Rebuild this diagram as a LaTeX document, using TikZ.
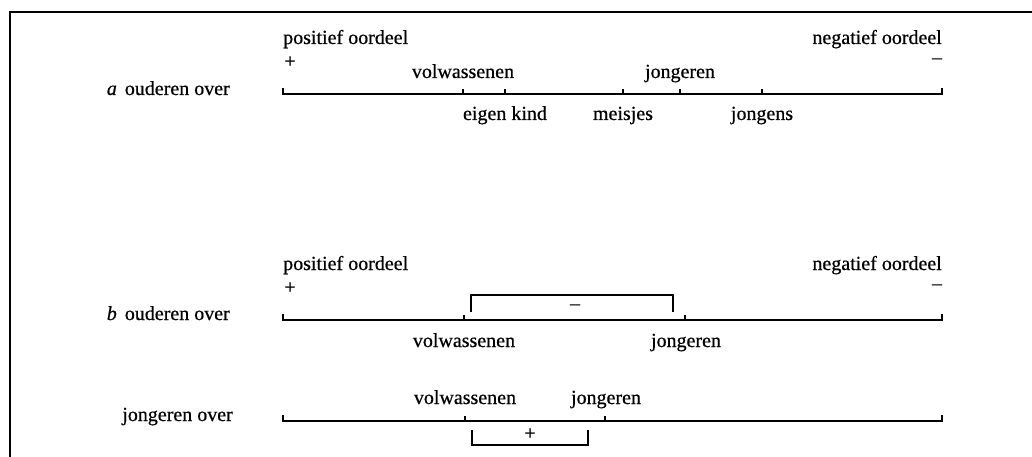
\documentclass[tikz,border=0pt]{standalone}
\usepackage{fontspec}
\setmainfont[FakeBold=0.6]{Liberation Serif}
\begin{document}
\begin{tikzpicture}[x=1pt,y=-1pt,
  lbl/.style={inner sep=0pt, font=\fontsize{20}{24}\selectfont, anchor=base},
  sgn/.style={inner sep=0pt, font=\fontsize{20}{24}\selectfont, anchor=center},
  axisline/.style={line width=1.7pt},
  tickline/.style={line width=1.2pt},
  frameline/.style={line width=2pt},
  brack/.style={line width=1.3pt}]
\useasboundingbox (0,0) rectangle (1032,457);
\draw[frameline] (10,457) -- (10,12) -- (1032,12);

% ---------- row a ----------
\coordinate (aL) at (283,94);
\coordinate (aR) at (942,94);
\coordinate (a1) at (463,94);
\coordinate (a2) at (505,94);
\coordinate (a3) at (623,94);
\coordinate (a4) at (680,94);
\coordinate (a5) at (762,94);
\draw[axisline] (aL) ++(0,-6) -- (aL) -- (aR) -- ++(0,-6);
\foreach \t in {a1,a2,a3,a4,a5} \draw[tickline] (\t) -- ++(0,-5);
\node[lbl, anchor=base east] (arow) at (230,95) {\textit{a}\hspace{3pt} ouderen over};
\node[lbl, anchor=base west] (apos) at (283,44) {positief oordeel};
\node[lbl, anchor=base east] (aneg) at (942,44) {negatief oordeel};
\node[sgn] (aplus) at (290,62) {+};
\node[sgn] (amin) at (937,61) {–};
\node[lbl] (avol) at (463,78) {volwassenen};
\node[lbl] (ajong) at (680,78) {jongeren};
\node[lbl] (aeig) at (505,120) {eigen kind};
\node[lbl] (amei) at (623,120) {meisjes};
\node[lbl] (ajgs) at (762,120) {jongens};

% ---------- row b ----------
\coordinate (bL) at (283,320);
\coordinate (bR) at (942,320);
\coordinate (b1) at (464,320);
\coordinate (b2) at (685,320);
\draw[axisline] (bL) ++(0,-6) -- (bL) -- (bR) -- ++(0,-6);
\foreach \t in {b1,b2} \draw[tickline] (\t) -- ++(0,-5);
\node[lbl, anchor=base east] (brow) at (230,320) {\textit{b}\hspace{3pt} ouderen over};
\node[lbl, anchor=base west] (bpos) at (283,270) {positief oordeel};
\node[lbl, anchor=base east] (bneg) at (942,270) {negatief oordeel};
\node[sgn] (bplus) at (290,288) {+};
\node[sgn] (bmin) at (937,287) {–};
\node[lbl] (bvol) at (464,347) {volwassenen};
\node[lbl] (bjong) at (686,347) {jongeren};
\coordinate (bb1) at (471,312);
\coordinate (bb2) at (673,312);
\draw[brack] (bb1) -- ++(0,-17) -| (bb2);
\node[sgn] (bbmin) at (575,307) {–};

% ---------- row c ----------
\coordinate (cL) at (283,421);
\coordinate (cR) at (942,421);
\coordinate (c1) at (465,421);
\coordinate (c2) at (605,421);
\draw[axisline] (cL) ++(0,-6) -- (cL) -- (cR) -- ++(0,-6);
\foreach \t in {c1,c2} \draw[tickline] (\t) -- ++(0,-5);
\node[lbl, anchor=base east] (crow) at (233,421) {jongeren over};
\node[lbl] (cvol) at (465,404) {volwassenen};
\node[lbl] (cjong) at (606,404) {jongeren};
\coordinate (cb1) at (472,430);
\coordinate (cb2) at (588,430);
\draw[brack] (cb1) -- ++(0,15) -| (cb2);
\node[sgn] (cbplus) at (530,434) {+};
\end{tikzpicture}
\end{document}
